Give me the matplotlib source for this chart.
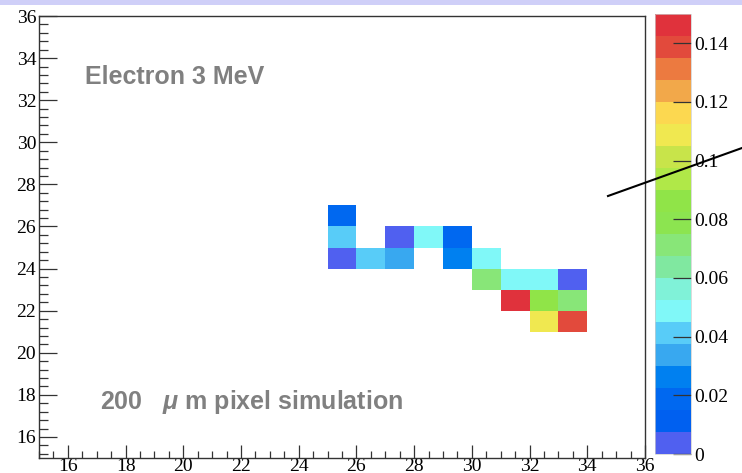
import numpy as np
import matplotlib
matplotlib.use("Agg")
import matplotlib.pyplot as plt
from matplotlib.colors import ListedColormap, BoundaryNorm
from matplotlib.lines import Line2D
from matplotlib.patches import Rectangle

# ---- data ----
cell_x = [25, 25, 27, 28, 29, 25, 26, 27, 29, 30, 30, 31, 32, 33, 31, 32, 33, 32, 33]
cell_y = [26, 25, 25, 25, 25, 24, 24, 24, 24, 24, 23, 23, 23, 23, 22, 22, 22, 21, 21]
cell_v = [0.019, 0.041, 0.004, 0.049, 0.019, 0.004, 0.041, 0.034, 0.026, 0.049,
          0.071, 0.049, 0.049, 0.004, 0.146, 0.086, 0.071, 0.109, 0.139]
x_ticks = [16, 18, 20, 22, 24, 26, 28, 30, 32, 34, 36]
y_ticks = [16, 18, 20, 22, 24, 26, 28, 30, 32, 34, 36]
cbar_ticks = [0, 0.02, 0.04, 0.06, 0.08, 0.1, 0.12, 0.14]
cbar_labels = ["0", "0.02", "0.04", "0.06", "0.08", "0.1", "0.12", "0.14"]
palette = ['#5060f0', '#0060f0', '#0068f0', '#0080f0', '#38a8f0', '#58ccf8', '#80f8f8',
           '#80f2d8', '#80e8a0', '#88e678', '#8ce450', '#90e448', '#b0e848', '#c8e44a',
           '#f0e850', '#fcd850', '#f2a84a', '#ec7a40', '#e24a3c', '#e0323c']
zmax = 0.15

plt.rcParams['mathtext.fontset'] = 'custom'
plt.rcParams['mathtext.it'] = 'Liberation Sans:italic:bold'
plt.rcParams['mathtext.rm'] = 'Liberation Sans:bold'

fig = plt.figure(figsize=(7.42, 4.73), dpi=100)
ax = fig.add_axes([39/742, 1 - 458/473, (645-39)/742, (458-16)/473])
cax = fig.add_axes([655/742, 1 - 454/473, 36/742, 440/473])

xe = np.arange(15, 37)
ye = np.arange(15, 37)
grid = np.full((len(ye) - 1, len(xe) - 1), np.nan)
for x, y, v in zip(cell_x, cell_y, cell_v):
    grid[y - 15, x - 15] = v
grid = np.ma.masked_invalid(grid)

cmap = ListedColormap(palette)
bounds = np.linspace(0, zmax, len(palette) + 1)
norm = BoundaryNorm(bounds, cmap.N)
mesh = ax.pcolormesh(xe, ye, grid, cmap=cmap, norm=norm)

ax.set_xlim(15, 36)
ax.set_ylim(15, 36)
ax.set_xticks(x_ticks)
ax.set_yticks(y_ticks)
ax.set_xticks(np.arange(15, 36.01, 0.5), minor=True)
ax.set_yticks(np.arange(15.2, 36.01, 0.4), minor=True)
tickfont = {'family': 'Liberation Serif', 'size': 14}
ax.set_xticklabels([str(t) for t in x_ticks], fontdict=tickfont)
ax.set_yticklabels([str(t) for t in y_ticks], fontdict=tickfont)
ax.tick_params(axis='x', which='major', direction='in', length=9.4, width=0.9, pad=0, color='#333333')
ax.tick_params(axis='x', which='minor', direction='in', length=4.7, width=0.9, color='#333333')
ax.tick_params(axis='y', which='major', direction='in', length=13, width=0.9, pad=2, color='#333333')
ax.tick_params(axis='y', which='minor', direction='in', length=6.5, width=0.9, color='#333333')
for s in ax.spines.values():
    s.set_linewidth(1.0)
    s.set_color('#333333')

ax.text(0.076, 0.862, "Electron 3 MeV", transform=ax.transAxes, fontsize=18,
        family='Liberation Sans', fontweight='bold', color='#808080', va='center', ha='left')
ax.text(0.1007, 0.127, r"200   $\mathit{\mu}$ m pixel simulation", transform=ax.transAxes,
        fontsize=18, family='Liberation Sans', fontweight='bold', color='#808080',
        va='center', ha='left')

cb = fig.colorbar(mesh, cax=cax, ticks=cbar_ticks)
cb.ax.set_yticklabels(cbar_labels, fontdict=tickfont)
cb.ax.tick_params(direction='in', length=13, width=0.9, pad=2, color='#333333')
cb.ax.minorticks_off()
cb.outline.set_linewidth(0.5)
cb.outline.set_edgecolor('#cccccc')

fig.patches.append(Rectangle((0, 1 - 5/473), 1, 5/473, transform=fig.transFigure,
                             facecolor='#cfcff8', edgecolor='none', zorder=0))
fig.lines.append(Line2D([608/742, 1.0], [1 - 196/473, 1 - 148/473], transform=fig.transFigure,
                        color='black', lw=1.5, zorder=10))

fig.savefig("out.png", dpi=100)
